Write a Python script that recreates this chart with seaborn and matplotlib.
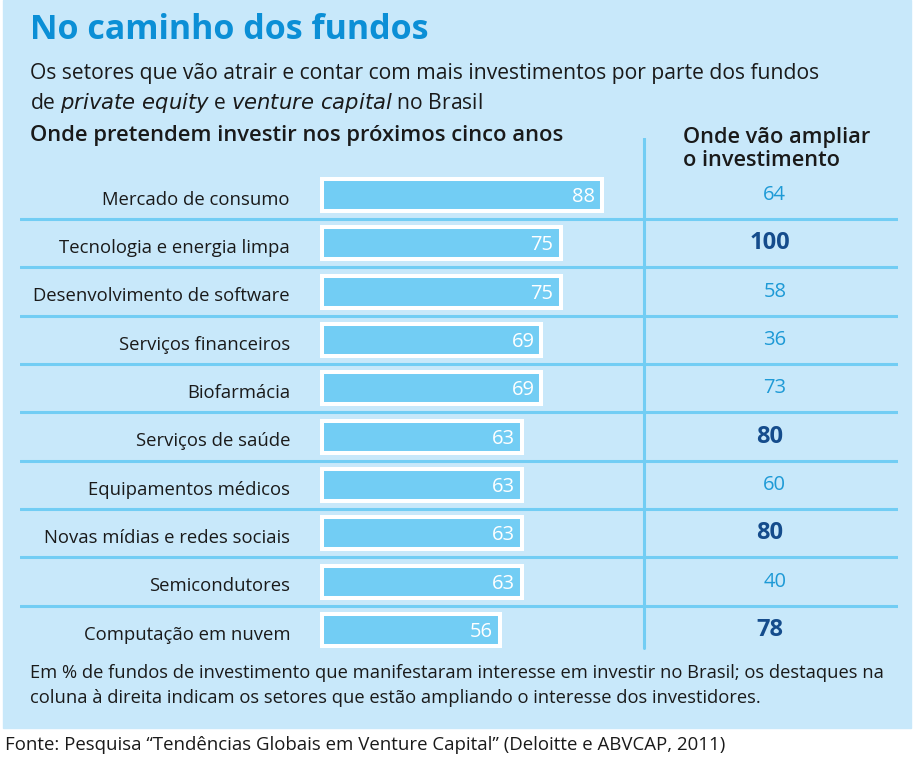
import pandas as pd
import numpy as np
import seaborn as sns
import matplotlib.pyplot as plt
from matplotlib.patches import Rectangle

sns.set_style('white')
plt.rcParams['font.family'] = ['Open Sans', 'DejaVu Sans']

setores = ['Mercado de consumo', 'Tecnologia e energia limpa', 'Desenvolvimento de software',
           'Serviços financeiros', 'Biofarmácia', 'Serviços de saúde', 'Equipamentos médicos',
           'Novas mídias e redes sociais', 'Semicondutores', 'Computação em nuvem']
cinco_anos = [88, 75, 75, 69, 69, 63, 63, 63, 63, 56]
ampliar = [64, 100, 58, 36, 73, 80, 60, 80, 40, 78]
destaque = [False, True, False, False, False, True, False, True, False, True]

df = pd.DataFrame({'setor': setores, 'valor': cinco_anos})

painel = '#c8e8fa'
azul_barra = '#72cdf4'
azul_titulo = '#0b8fd6'
azul_num = '#1e9ad6'
azul_escuro = '#154c8c'
texto = '#1a1a1a'

fig = plt.figure(figsize=(9.16, 7.65), dpi=100)
W, H = 916, 765
fig.patches.append(Rectangle((3 / W, 1 - 728 / H), 908 / W, 728 / H,
                             transform=fig.transFigure, color=painel, zorder=-10))

# area dos dados: x 20..898 px, y 138..655 px
ax = fig.add_axes([20 / W, 1 - 655 / H, 878 / W, 517 / H])
ax.patch.set_alpha(0)
sns.barplot(data=df, x='valor', y='setor', ax=ax, color=azul_barra, saturation=1,
            width=0.66, edgecolor='white', linewidth=2.9, orient='h')
px = 3.18
ax.set_xlim((20 - 322) / px, (898 - 322) / px)
ax.set_ylim((655 - 195) / 48.33, (138 - 195) / 48.33)
ax.set_axis_off()

for i in range(len(setores) - 1):
    ax.axhline(i + 0.5, color=azul_barra, lw=2.2, zorder=0)
xv = (644 - 322) / px
ax.plot([xv, xv], [(138 - 195) / 48.33, (648 - 195) / 48.33], color=azul_barra, lw=2.2, zorder=0)

xc = (770 - 322) / px
for i, (s, v, a, d) in enumerate(zip(setores, cinco_anos, ampliar, destaque)):
    ax.text((290 - 322) / px, i + 0.1, s, ha='right', va='center', fontsize=13.3, color=texto)
    ax.text(v - 2.2, i + 0.04, str(v), ha='right', va='center', fontsize=14.5, color='white')
    if d:
        ax.text(xc, i, str(a), ha='center', va='center', fontsize=17,
                fontweight='bold', color=azul_escuro)
    else:
        ax.text(xc + 1.5, i, str(a), ha='center', va='center', fontsize=14.5,
                color=azul_num)

fig.text(30 / W, 1 - 30 / H, 'No caminho dos fundos', fontsize=24.5, fontweight='bold',
         color=azul_titulo, va='center')
fig.text(30 / W, 1 - 73 / H, 'Os setores que vão atrair e contar com mais investimentos por parte dos fundos',
         fontsize=15.2, color=texto, va='center')
fig.text(30 / W, 1 - 103 / H, r'de $\it{private\ equity}$ e $\it{venture\ capital}$ no Brasil',
         fontsize=15.2, color=texto, va='center')
fig.text(30 / W, 1 - 136 / H, 'Onde pretendem investir nos próximos cinco anos', fontsize=15.8,
         fontweight='semibold', color=texto, va='center')
fig.text(683 / W, 1 - 137 / H, 'Onde vão ampliar', fontsize=15.7, fontweight='semibold', color=texto,
         va='center')
fig.text(683 / W, 1 - 160 / H, 'o investimento', fontsize=15.7, fontweight='semibold', color=texto,
         va='center')

fig.text(30 / W, 1 - 673 / H, 'Em % de fundos de investimento que manifestaram interesse em investir no Brasil; os destaques na',
         fontsize=13.2, color=texto, va='center')
fig.text(30 / W, 1 - 698 / H, 'coluna à direita indicam os setores que estão ampliando o interesse dos investidores.',
         fontsize=13.2, color=texto, va='center')
fig.text(5 / W, 1 - 745 / H, 'Fonte: Pesquisa “Tendências Globais em Venture Capital” (Deloitte e ABVCAP, 2011)',
         fontsize=13.4, color=texto, va='center')

fig.savefig('out.png', dpi=100)
